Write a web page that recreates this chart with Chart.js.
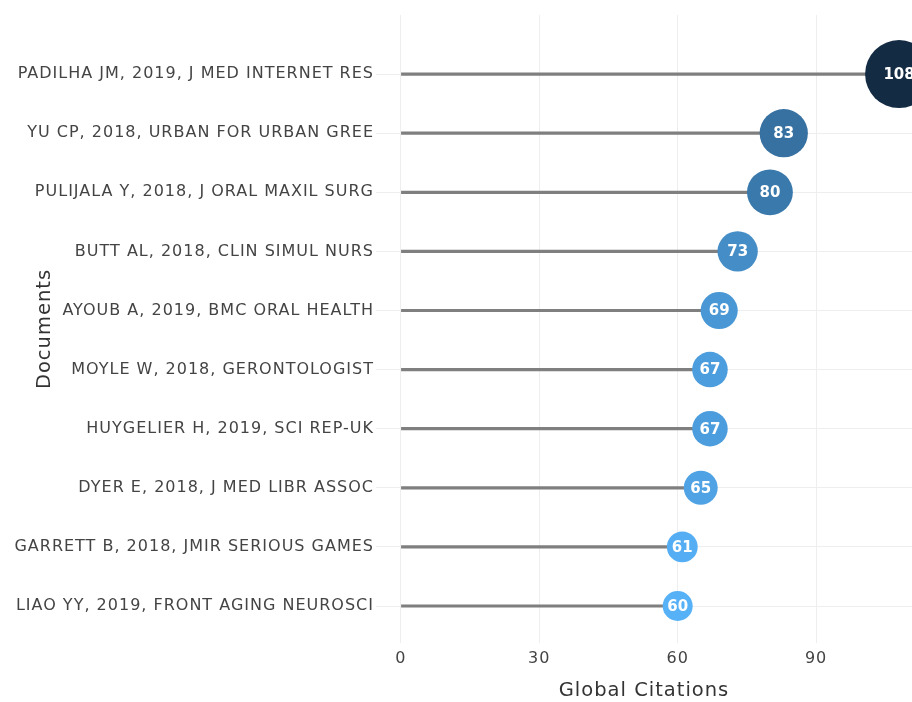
<!DOCTYPE html>
<html>
<head>
<meta charset="utf-8">
<title>Most cited documents</title>
<script src="https://cdn.jsdelivr.net/npm/chart.js@4.4.1/dist/chart.umd.min.js"></script>
<style>
  html, body { margin: 0; padding: 0; background: #fff; }
  canvas { display: block; }
</style>
</head>
<body>
<canvas id="docChart" width="912" height="702"></canvas>
<script>
// Documents, top to bottom as shown
const documents = [
    'PADILHA JM, 2019, J MED INTERNET RES',
    'YU CP, 2018, URBAN FOR URBAN GREE',
    'PULIJALA Y, 2018, J ORAL MAXIL SURG',
    'BUTT AL, 2018, CLIN SIMUL NURS',
    'AYOUB A, 2019, BMC ORAL HEALTH',
    'MOYLE W, 2018, GERONTOLOGIST',
    'HUYGELIER H, 2019, SCI REP-UK',
    'DYER E, 2018, J MED LIBR ASSOC',
    'GARRETT B, 2018, JMIR SERIOUS GAMES',
    'LIAO YY, 2019, FRONT AGING NEUROSCI'
];
const citations = [108, 83, 80, 73, 69, 67, 67, 65, 61, 60];
const xTicks = [0, 30, 60, 90];

const FONT = '"DejaVu Sans", Verdana, sans-serif';
const minC = Math.min(...citations);
const maxC = Math.max(...citations);

// row position: first document at the top
const rowOf = i => documents.length - i;

// colour gradient, light blue (low) -> dark navy (high)
function colourFor(v) {
    let lo = [86, 177, 247], hi = [19, 43, 67];
    let t = (v - minC) / (maxC - minC);
    let c = lo.map((a, k) => Math.round(a + (hi[k] - a) * t));
    return `rgb(${c[0]},${c[1]},${c[2]})`;
}
function radiusFor(v) {
    return 15 + (v - minC) * (19 / (maxC - minC));
}

let points = citations.map((v, i) => ({ x: v, y: rowOf(i) }));

// the reference font is wider than DejaVu, so space the letters out a bit
const wideText = {
    id: 'wideText',
    beforeDraw(chart) {
        chart.ctx.letterSpacing = '1px';
    },
    afterDraw(chart) {
        chart.ctx.letterSpacing = '0px';
    }
};

// draw the value inside each circle
const valueLabels = {
    id: 'valueLabels',
    afterDatasetsDraw(chart) {
        let ctx = chart.ctx;
        let meta = chart.getDatasetMeta(0);
        ctx.save();
        ctx.letterSpacing = '0px';
        ctx.fillStyle = '#ffffff';
        ctx.font = 'bold 15px ' + FONT;
        ctx.textAlign = 'center';
        ctx.textBaseline = 'middle';
        meta.data.forEach((pt, i) => {
            ctx.fillText(String(citations[i]), pt.x, pt.y + 1);
        });
        ctx.restore();
    }
};

new Chart(document.getElementById('docChart').getContext('2d'), {
    type: 'bar',
    data: {
        datasets: [{
            type: 'scatter',
            data: points,
            pointRadius: citations.map(radiusFor),
            pointHoverRadius: citations.map(radiusFor),
            pointBackgroundColor: citations.map(colourFor),
            pointBorderWidth: 0,
            clip: false
        }, {
            type: 'bar',
            data: points,
            backgroundColor: '#7f7f7f',
            barThickness: 2.5,
            borderWidth: 0
        }]
    },
    options: {
        responsive: false,
        animation: false,
        indexAxis: 'y',
        layout: { padding: { top: 15, left: 0, right: 0, bottom: 0 }, autoPadding: false },
        plugins: {
            legend: { display: false },
            tooltip: { enabled: false }
        },
        scales: {
            x: {
                type: 'linear',
                min: -5.4,
                max: 110.8,
                afterBuildTicks: s => { s.ticks = xTicks.map(v => ({ value: v })); },
                afterFit: s => { s.height = 59; },
                border: { display: false },
                grid: { color: '#eeeeee', lineWidth: 1, drawTicks: false },
                ticks: { color: '#444', font: { family: FONT, size: 16 }, padding: 6, maxRotation: 0 },
                title: {
                    display: true,
                    text: 'Global Citations',
                    color: '#333',
                    font: { family: FONT, size: 19.5, lineHeight: 1.2 },
                    padding: { top: 0, bottom: -1 }
                }
            },
            y: {
                type: 'linear',
                min: 0.374,
                max: 11,
                offset: false,
                afterBuildTicks: s => { s.ticks = documents.map((d, i) => ({ value: rowOf(i) })); },
                afterFit: s => { s.width = 376; },
                border: { display: false },
                grid: { color: '#eeeeee', lineWidth: 1, drawTicks: false, offset: false },
                ticks: {
                    color: '#444',
                    font: { family: FONT, size: 16 },
                    padding: 2,
                    autoSkip: false,
                    callback: v => documents[documents.length - v]
                },
                title: {
                    display: true,
                    text: 'Documents',
                    color: '#333',
                    font: { family: FONT, size: 19.5, lineHeight: 1.2 },
                    padding: { top: 33, bottom: 0 }
                }
            }
        }
    },
    plugins: [wideText, valueLabels]
});
</script>
</body>
</html>
